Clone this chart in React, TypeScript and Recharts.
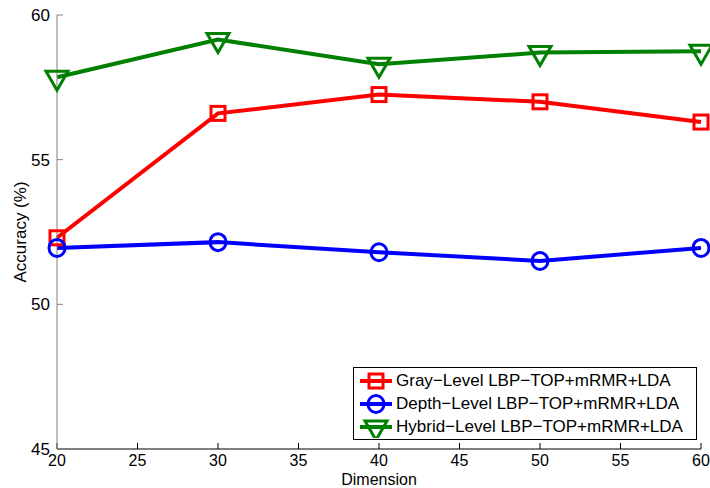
import { LineChart, Line, XAxis, YAxis, Legend, Label } from 'recharts';

const dimensions = [20, 30, 40, 50, 60];
const grayLevel = [52.3, 56.6, 57.25, 57.0, 56.3];
const depthLevel = [51.95, 52.15, 51.8, 51.5, 51.95];
const hybridLevel = [57.85, 59.15, 58.3, 58.7, 58.75];
const xTicks = [20, 25, 30, 35, 40, 45, 50, 55, 60];
const yTicks = [45, 50, 55, 60];

const seriesNames = [
  'Gray\u2212Level LBP\u2212TOP+mRMR+LDA',
  'Depth\u2212Level LBP\u2212TOP+mRMR+LDA',
  'Hybrid\u2212Level LBP\u2212TOP+mRMR+LDA',
];

const data = dimensions.map((dim, i) => ({
  dim,
  gray: grayLevel[i],
  depth: depthLevel[i],
  hybrid: hybridLevel[i],
}));

const FONT = '"Liberation Sans", Arial, Helvetica, sans-serif';
const FS = 17;
const RED = '#ff0000';
const BLUE = '#0000ff';
const GREEN = '#008000';

function Square({ cx, cy }: { cx: number; cy: number }) {
  return <rect x={cx - 7} y={cy - 7} width={14} height={14} fill="none" stroke={RED} strokeWidth={3} />;
}

function Circle({ cx, cy }: { cx: number; cy: number }) {
  return <ellipse cx={cx} cy={cy} rx={8} ry={8.5} fill="none" stroke={BLUE} strokeWidth={3} />;
}

function Triangle({ cx, cy }: { cx: number; cy: number }) {
  const pts = `${cx - 11},${cy - 6} ${cx + 11},${cy - 6} ${cx},${cy + 13}`;
  return <polygon points={pts} fill="none" stroke={GREEN} strokeWidth={3} strokeLinejoin="miter" />;
}

const markers = [Square, Circle, Triangle];
const colors = [RED, BLUE, GREEN];

function LegendBox() {
  return (
    <div
      style={{
        border: '1px solid #000',
        background: '#fff',
        width: 344,
        height: 73,
        boxSizing: 'border-box',
        paddingTop: 1,
        fontFamily: FONT,
        fontSize: FS,
      }}
    >
      {seriesNames.map((name, i) => {
        const M = markers[i];
        return (
          <div key={name} style={{ display: 'flex', alignItems: 'center', height: 23 }}>
            <svg width={42} height={23} style={{ flex: 'none' }}>
              <line x1={6} x2={38} y1={12} y2={12} stroke={colors[i]} strokeWidth={4} />
              <M cx={22} cy={12} />
            </svg>
            <span style={{ whiteSpace: 'nowrap' }}>{name}</span>
          </div>
        );
      })}
    </div>
  );
}

export default function App() {
  const tickStyle = { fontFamily: FONT, fontSize: FS, fill: '#000' };
  const xTickStyle = { fontFamily: FONT, fontSize: 16, fill: '#000' };
  return (
    <div style={{ position: 'absolute', left: 0, top: 0, background: '#fff' }}>
      <LineChart width={710} height={488} data={data} margin={{ top: 15, right: 9, bottom: 0, left: 0 }}>
        <XAxis
          dataKey="dim"
          type="number"
          domain={[20, 60]}
          ticks={xTicks}
          height={39}
          tickSize={-6}
          tickMargin={12}
          axisLine={{ stroke: '#000', strokeWidth: 1 }}
          tickLine={{ stroke: '#000' }}
          tick={xTickStyle}
        >
          <Label value="Dimension" position="insideBottom" offset={3} style={{ fontFamily: FONT, fontSize: 16, fill: '#000' }} />
        </XAxis>
        <YAxis
          type="number"
          domain={[45, 60]}
          ticks={yTicks}
          width={57}
          tickSize={-6}
          tickMargin={13}
          axisLine={{ stroke: '#808080', strokeWidth: 1 }}
          tickLine={{ stroke: '#808080' }}
          tick={tickStyle}
        >
          <Label
            content={() => (
              <text
                x={20}
                y={232}
                transform="rotate(-90 20 232)"
                textAnchor="middle"
                dominantBaseline="central"
                style={{ fontFamily: FONT, fontSize: FS, fill: '#000' }}
              >
                Accuracy (%)
              </text>
            )}
          />
        </YAxis>
        <Legend
          layout="vertical"
          align="center"
          verticalAlign="middle"
          content={() => <LegendBox />}
          wrapperStyle={{ left: 353, top: 367, width: 344, height: 73 }}
        />
        <Line
          dataKey="gray"
          stroke={RED}
          strokeWidth={4}
          isAnimationActive={false}
          activeDot={false}
          dot={(p: any) => <Square key={`g${p.index}`} cx={p.cx} cy={p.cy} />}
        />
        <Line
          dataKey="depth"
          stroke={BLUE}
          strokeWidth={4}
          isAnimationActive={false}
          activeDot={false}
          dot={(p: any) => <Circle key={`d${p.index}`} cx={p.cx} cy={p.cy} />}
        />
        <Line
          dataKey="hybrid"
          stroke={GREEN}
          strokeWidth={4}
          isAnimationActive={false}
          activeDot={false}
          dot={(p: any) => <Triangle key={`h${p.index}`} cx={p.cx} cy={p.cy} />}
        />
      </LineChart>
    </div>
  );
}
